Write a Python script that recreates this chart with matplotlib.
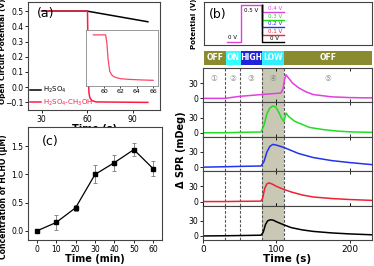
import matplotlib
matplotlib.use("Agg")
import matplotlib.pyplot as plt

plt.rcParams["font.family"] = ["DejaVu Sans"]
plt.rcParams["axes.linewidth"] = 0.8
plt.rcParams["axes.edgecolor"] = "#444444"

# ---- panel (a): open circuit potential
ocp_t_h2so4 = [30, 60, 100]
ocp_v_h2so4 = [0.5, 0.5, 0.43]
ocp_t_mix = [30, 60.2, 60.5, 60.8, 61.2, 61.8, 63, 66, 100]
ocp_v_mix = [0.5, 0.5, 0.3, 0.05, -0.04, -0.07, -0.088, -0.097, -0.1]
inset_t = [58.7, 60.2, 60.35, 60.5, 60.7, 61.0, 61.3, 62.0, 63.0, 64.5, 66.0]
inset_v = [0.5, 0.5, 0.4, 0.2, 0.05, 0.0, -0.02, -0.04, -0.048, -0.055, -0.06]

# ---- panel (c): HCHO concentration
hcho_t = [0, 10, 20, 30, 40, 50, 60]
hcho_c = [0.0, 0.15, 0.41, 1.0, 1.21, 1.44, 1.1]
hcho_err = [0.02, 0.14, 0.05, 0.16, 0.14, 0.12, 0.13]

# ---- panel (b): potential program
step_t = [31, 50, 50, 80]
step_v = [0.0, 0.0, 0.5, 0.5]
t_low, t_end = 80, 110
levels = [0.4, 0.3, 0.2, 0.1, 0.0]
level_labels = ["0.4 V", "0.3 V", "0.2 V", "0.1 V", "0 V"]
colors = ["#e040e0", "#22dd22", "#2233ee", "#ee2233", "#000000"]

phase_edges = [0, 30, 50, 80, 110, 230]
phase_names = ["OFF", "ON", "HIGH", "LOW", "OFF"]
phase_colors = ["#8a8a2e", "#33ffff", "#2222dd", "#33eeff", "#8a8a2e"]
marks = [30, 50, 80, 110]
step_nums = ["\u2460", "\u2461", "\u2462", "\u2463", "\u2464"]
step_pos = [15, 40, 65, 95, 170]

# ---- SPR traces (mDeg), top (0.4 V) to bottom (0 V)
spr_t = [
    [0, 30, 50, 80, 106, 109, 111, 113, 116, 122, 130, 140, 150, 175, 200, 230],
    [0, 30, 50, 79, 83, 87, 91, 95, 99, 103, 107, 110, 113, 117, 125, 145, 165, 185, 205, 230],
    [0, 30, 50, 79, 83, 87, 91, 95, 100, 110, 120, 130, 150, 175, 200, 230],
    [0, 30, 50, 79, 81, 84, 87, 90, 95, 100, 110, 120, 135, 150, 175, 200, 230],
    [0, 30, 50, 79, 82, 85, 88, 92, 96, 100, 110, 120, 135, 150, 175, 200, 230],
]
spr_v = [
    [0, 0, 4, 7.5, 10.5, 19, 37.5, 46.5, 41, 30, 21, 13, 7.5, 3, 1.5, 0.8],
    [0, 0, 0.8, 1.5, 15, 37.5, 49, 53, 51, 41, 28.5, 22.5, 39, 31.5, 22.5, 10.5, 6, 3, 1.5, 0.8],
    [0, 0.8, 1.5, 2.3, 11, 30, 41, 45, 43.5, 39, 33, 27, 19, 13, 9, 5],
    [0, 0, 0.4, 0.8, 6, 26, 35, 37, 34, 30, 24, 19, 13, 9, 6, 4, 2.3],
    [0, 0.4, 0.8, 1.5, 7.5, 22.5, 30, 32, 31, 28, 22, 16.5, 12, 9, 6, 4, 2.3],
]

W, H = 374, 266
fig = plt.figure(figsize=(W / 100, H / 100), dpi=100)


def box(l, t, r, b):
    return [l / W, 1 - b / H, (r - l) / W, (b - t) / H]


tick_kw = dict(labelsize=5.5, length=2, width=0.6, pad=1.5)

# ---------------- (a)
ax_a = fig.add_axes(box(28, 2, 160, 110))
ax_a.plot(ocp_t_h2so4, ocp_v_h2so4, color="black", lw=1.1, label="H$_2$SO$_4$")
ax_a.plot(ocp_t_mix, ocp_v_mix, color="#ff1a44", lw=1.1, label="H$_2$SO$_4$-CH$_3$OH")
ax_a.set_xlim(21, 108)
ax_a.set_ylim(-0.15, 0.56)
ax_a.set_xticks([30, 60, 90])
ax_a.set_yticks([-0.1, 0.0, 0.1, 0.2, 0.3, 0.4, 0.5])
ax_a.tick_params(**tick_kw)
ax_a.set_xlabel("Time (s)", fontsize=7, fontweight="bold", labelpad=0)
ax_a.set_ylabel("Open Circuit Potential (V)", fontsize=5.2, fontweight="bold")
ax_a.yaxis.set_label_coords(-0.165, 0.54)
ax_a.text(0.07, 0.86, "(a)", transform=ax_a.transAxes, fontsize=9)
leg = ax_a.legend(loc="lower left", frameon=False, fontsize=5, handlelength=1.6,
                  handletextpad=0.2, borderaxespad=0.1, borderpad=0.2, labelspacing=0.35)
leg.get_texts()[1].set_color("#ff1a44")

ax_in = fig.add_axes(box(86, 30, 158, 86))
ax_in.plot(inset_t, inset_v, color="#ff4466", lw=0.9)
ax_in.set_xlim(57.8, 66.6)
ax_in.set_ylim(-0.13, 0.56)
ax_in.set_xticks([60, 62, 64, 66])
ax_in.set_yticks([])
ax_in.tick_params(labelsize=4.5, length=1.5, width=0.5, pad=1)
for s in ax_in.spines.values():
    s.set_linewidth(0.6)
    s.set_color("#888888")

# ---------------- (c)
ax_c = fig.add_axes(box(28, 127, 162, 240))
ax_c.errorbar(hcho_t, hcho_c, yerr=hcho_err, color="black", ecolor="#888888",
              elinewidth=0.7, capsize=1.5, capthick=0.7, lw=0.9,
              marker="s", ms=3)
ax_c.set_xlim(-4.5, 64.5)
ax_c.set_ylim(-0.16, 1.84)
ax_c.set_xticks(hcho_t)
ax_c.set_yticks([0.0, 0.5, 1.0, 1.5])
ax_c.tick_params(**tick_kw)
ax_c.set_xlabel("Time (min)", fontsize=7, fontweight="bold", labelpad=0)
ax_c.set_ylabel("Concentration of HCHO (\u03bcM)", fontsize=5.6, fontweight="bold")
ax_c.yaxis.set_label_coords(-0.15, 0.38)
ax_c.text(0.1, 0.84, "(c)", transform=ax_c.transAxes, fontsize=9)

# ---------------- (b) potential program
ax_b = fig.add_axes(box(204, 2, 372, 45))
ax_b.plot(step_t, step_v, color=colors[0], lw=1.0)
for lv, lab, col in zip(levels, level_labels, colors):
    ax_b.plot([t_low, t_low, t_end], [0.5, lv, lv], color=col, lw=1.0)
    ax_b.text((t_low + t_end) / 2 + 2, lv + 0.015, lab, color=col, fontsize=4,
              ha="center", va="bottom")
ax_b.text(39, 0.03, "0 V", fontsize=4, ha="center", va="bottom")
ax_b.text(65, 0.46, "0.5 V", fontsize=4, ha="center", va="top")
ax_b.set_xlim(0, 230)
ax_b.set_ylim(-0.04, 0.54)
ax_b.set_xticks([])
ax_b.set_yticks([])
ax_b.text(0.03, 0.62, "(b)", transform=ax_b.transAxes, fontsize=9)
fig.text(194 / W, 1 - 24 / H, "Potential (V)", rotation=90, fontsize=5,
         fontweight="bold", ha="center", va="center")

# phase bar
ax_bar = fig.add_axes(box(204, 51, 372, 65))
for i, name in enumerate(phase_names):
    x0, x1 = phase_edges[i], phase_edges[i + 1]
    ax_bar.axvspan(x0, x1, color=phase_colors[i], lw=0)
    ax_bar.text((x0 + x1) / 2, 0.5, name, color="white", fontsize=5.5,
                fontweight="bold", ha="center", va="center")
ax_bar.set_xlim(0, 230)
ax_bar.set_ylim(0, 1)
ax_bar.axis("off")

# ---------------- SPR stack
n = len(spr_t)
top, bottom = 68, 240
hgt = (bottom - top) / n
spr_axes = []
for i in range(n):
    ax = fig.add_axes(box(203, top + i * hgt, 372, top + (i + 1) * hgt))
    ax.axvspan(t_low, t_end, color="#c8c8b4", lw=0, zorder=0)
    for m in marks:
        ax.axvline(m, color="#555555", lw=0.8, ls=(0, (2.5, 1.5)), zorder=1)
    ax.plot(spr_t[i], spr_v[i], color=colors[i], lw=1.1, zorder=2)
    ax.set_xlim(0, 230)
    ax.set_ylim(-8, 60)
    ax.set_yticks([0, 30])
    ax.tick_params(axis="y", **tick_kw)
    ax.tick_params(axis="x", direction="in", top=True, length=2, width=0.6,
                   labelsize=6, pad=1.5)
    ax.set_xticks([0, 100, 200])
    if i < n - 1:
        ax.tick_params(axis="x", labelbottom=False)
    spr_axes.append(ax)

ax_top = spr_axes[0]
for s, x in zip(step_nums, step_pos):
    ax_top.text(x, 40, s, color="#888888", fontsize=5.5, ha="center", va="center")
ax_bot = spr_axes[-1]
ax_bot.tick_params(axis="x", direction="out", top=True, length=2, labelsize=6.5)
ax_bot.set_xlabel("Time (s)", fontsize=7.5, fontweight="bold", labelpad=0)
fig.text(181 / W, 1 - 150 / H, "\u0394 SPR (mDeg)", rotation=90, fontsize=7,
         fontweight="bold", ha="center", va="center")

fig.savefig("out.png", dpi=100)
